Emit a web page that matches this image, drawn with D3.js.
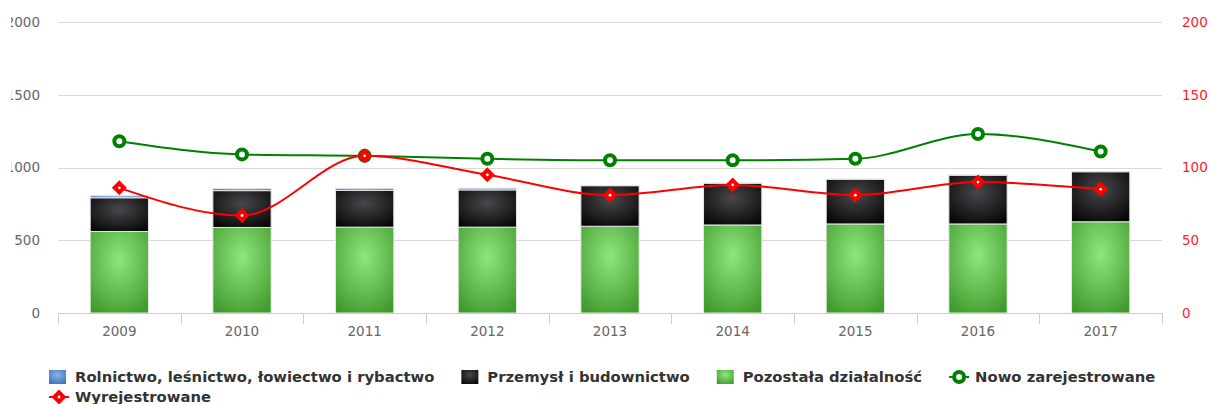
<!DOCTYPE html>
<html>
<head>
<meta charset="utf-8">
<script src="https://cdn.jsdelivr.net/npm/d3@7"></script>
<style>
  html, body { margin: 0; padding: 0; background: #fff; }
  svg { display: block; font-family: "DejaVu Sans", Verdana, sans-serif; }
</style>
</head>
<body>
<div id="chart"></div>
<script>
// Podmioty gospodarki narodowej wg sekcji + nowo zarejestrowane / wyrejestrowane

const years = ['2009', '2010', '2011', '2012', '2013', '2014', '2015', '2016', '2017'];
const rolnictwo = [14, 15, 14, 12, 2, 1, 1, 1, 1];
const przemysl = [232, 253, 253, 256, 279, 287, 307, 335, 344];
const pozostala = [560, 588, 590, 590, 596, 605, 612, 612, 627];
const nowoZarejestrowane = [118, 109, 108, 106, 105, 105, 106, 123, 111];
const wyrejestrowane = [86, 67, 108, 95, 81, 88, 81, 90, 85];

const leftTicks = [0, 500, 1000, 1500, 2000];
const rightTicks = [0, 50, 100, 150, 200];

const width = 1209;
const height = 404;
const plot = { left: 58, right: 1162, top: 22, bottom: 313 };

const svg = d3.select('#chart').append('svg')
  .attr('width', width)
  .attr('height', height);

const defs = svg.append('defs');

function radial(id, inner, outer) {
  const g = defs.append('radialGradient')
    .attr('id', id)
    .attr('cx', 0.5).attr('cy', 0.35).attr('r', 0.75);
  g.append('stop').attr('offset', '0%').attr('stop-color', inner);
  g.append('stop').attr('offset', '100%').attr('stop-color', outer);
}
radial('grad-blue', '#86b2e6', '#3d72b8');
radial('grad-black', '#48484c', '#050505');
radial('grad-green', '#8ee67c', '#3f9a2c');

defs.append('clipPath').attr('id', 'left-clip')
  .append('rect').attr('x', 11).attr('y', 0).attr('width', 60).attr('height', height);

const x = d3.scaleBand()
  .domain(years)
  .range([plot.left, plot.right])
  .padding(0);

const yLeft = d3.scaleLinear().domain([0, 2000]).range([plot.bottom, plot.top]);
const yRight = d3.scaleLinear().domain([0, 200]).range([plot.bottom, plot.top]);

// siatka
svg.append('g')
  .selectAll('line')
  .data(leftTicks.filter(d => d > 0))
  .join('line')
  .attr('x1', plot.left).attr('x2', plot.right)
  .attr('y1', d => Math.round(yLeft(d)) + 0.5)
  .attr('y2', d => Math.round(yLeft(d)) + 0.5)
  .attr('stroke', '#d9d9d9')
  .attr('stroke-width', 1);

// etykiety lewej osi
svg.append('g')
  .attr('clip-path', 'url(#left-clip)')
  .selectAll('text')
  .data(leftTicks)
  .join('text')
  .attr('x', 40)
  .attr('y', d => yLeft(d))
  .attr('dy', '0.36em')
  .attr('text-anchor', 'end')
  .attr('fill', '#666')
  .attr('font-size', 13.5)
  .text(d => d);

// etykiety prawej osi
svg.append('g')
  .selectAll('text')
  .data(rightTicks)
  .join('text')
  .attr('x', 1182)
  .attr('y', d => yRight(d))
  .attr('dy', '0.36em')
  .attr('text-anchor', 'start')
  .attr('fill', '#ff2030')
  .attr('font-size', 13.5)
  .text(d => d);

// słupki skumulowane
const stackData = years.map((year, i) => ({
  year,
  pozostala: pozostala[i],
  przemysl: przemysl[i],
  rolnictwo: rolnictwo[i]
}));
const stack = d3.stack().keys(['pozostala', 'przemysl', 'rolnictwo'])(stackData);
const fills = { pozostala: 'url(#grad-green)', przemysl: 'url(#grad-black)', rolnictwo: 'url(#grad-blue)' };
const barWidth = x.bandwidth() * 0.475;

svg.append('g')
  .selectAll('g')
  .data(stack)
  .join('g')
  .attr('fill', d => fills[d.key])
  .selectAll('rect')
  .data(d => d)
  .join('rect')
  .attr('x', d => x(d.data.year) + (x.bandwidth() - barWidth) / 2)
  .attr('y', d => yLeft(d[1]))
  .attr('width', barWidth)
  .attr('height', d => Math.max(0, yLeft(d[0]) - yLeft(d[1])))
  .attr('stroke', '#e6e6e6')
  .attr('stroke-width', 1);

// oś X
const xAxis = svg.append('g');
xAxis.append('line')
  .attr('x1', plot.left).attr('x2', plot.right)
  .attr('y1', plot.bottom + 0.5).attr('y2', plot.bottom + 0.5)
  .attr('stroke', '#c0d0e0');
xAxis.selectAll('.tick')
  .data(years.concat(['end']))
  .join('line')
  .attr('class', 'tick')
  .attr('x1', d => Math.round(d === 'end' ? plot.right : x(d)) + 0.5)
  .attr('x2', d => Math.round(d === 'end' ? plot.right : x(d)) + 0.5)
  .attr('y1', plot.bottom)
  .attr('y2', plot.bottom + 11)
  .attr('stroke', '#c0d0e0');
xAxis.selectAll('.label')
  .data(years)
  .join('text')
  .attr('class', 'label')
  .attr('x', d => x(d) + x.bandwidth() / 2)
  .attr('y', 331)
  .attr('dy', '0.36em')
  .attr('text-anchor', 'middle')
  .attr('fill', '#666')
  .attr('font-size', 13.5)
  .text(d => d);

// linie
const line = d3.line()
  .x((d, i) => x(years[i]) + x.bandwidth() / 2)
  .y(d => yRight(d))
  .curve(d3.curveMonotoneX);

const greenColor = '#008000';
const redColor = '#ff0000';

svg.append('path')
  .datum(nowoZarejestrowane)
  .attr('d', line)
  .attr('fill', 'none')
  .attr('stroke', greenColor)
  .attr('stroke-width', 2);

svg.append('g')
  .selectAll('circle')
  .data(nowoZarejestrowane)
  .join('circle')
  .attr('cx', (d, i) => x(years[i]) + x.bandwidth() / 2)
  .attr('cy', d => yRight(d))
  .attr('r', 5)
  .attr('fill', '#fff')
  .attr('stroke', greenColor)
  .attr('stroke-width', 4);

svg.append('path')
  .datum(wyrejestrowane)
  .attr('d', line)
  .attr('fill', 'none')
  .attr('stroke', redColor)
  .attr('stroke-width', 2);

const diamond = 'M0,-7.5L7.5,0L0,7.5L-7.5,0Z';
const redMarks = svg.append('g')
  .selectAll('g')
  .data(wyrejestrowane)
  .join('g')
  .attr('transform', (d, i) => `translate(${x(years[i]) + x.bandwidth() / 2},${yRight(d)})`);
redMarks.append('path').attr('d', diamond).attr('fill', redColor);
redMarks.append('circle').attr('r', 1.4).attr('fill', '#fff');

// legenda
const legendItems = [
  { name: 'Rolnictwo, leśnictwo, łowiectwo i rybactwo', type: 'rect', fill: 'url(#grad-blue)' },
  { name: 'Przemysł i budownictwo', type: 'rect', fill: 'url(#grad-black)' },
  { name: 'Pozostała działalność', type: 'rect', fill: 'url(#grad-green)' },
  { name: 'Nowo zarejestrowane', type: 'circle', color: greenColor },
  { name: 'Wyrejestrowane', type: 'diamond', color: redColor }
];

const legend = svg.append('g');
let lx = 49;
let ly = 377;
const rowLimit = 1180;

legendItems.forEach(item => {
  const g = legend.append('g');
  const txt = g.append('text')
    .attr('x', 26)
    .attr('y', 0)
    .attr('dy', '0.36em')
    .attr('font-size', 14.8)
    .attr('font-weight', 'bold')
    .attr('fill', '#333')
    .text(item.name);
  const w = 26 + txt.node().getComputedTextLength();
  if (lx + w > rowLimit) {
    lx = 49;
    ly += 20;
  }
  g.attr('transform', `translate(${lx},${ly})`);

  if (item.type === 'rect') {
    g.append('rect')
      .attr('x', 0).attr('y', -7)
      .attr('width', 17).attr('height', 14)
      .attr('fill', item.fill);
  } else {
    g.append('line')
      .attr('x1', 0).attr('x2', 20)
      .attr('y1', 0).attr('y2', 0)
      .attr('stroke', item.color)
      .attr('stroke-width', 2);
    if (item.type === 'circle') {
      g.append('circle')
        .attr('cx', 10).attr('cy', 0).attr('r', 5)
        .attr('fill', '#fff')
        .attr('stroke', item.color)
        .attr('stroke-width', 4);
    } else {
      g.append('path')
        .attr('d', 'M10,-7.5L17.5,0L10,7.5L2.5,0Z')
        .attr('fill', item.color);
      g.append('circle').attr('cx', 10).attr('r', 1.4).attr('fill', '#fff');
    }
  }
  lx += w + 27;
});
</script>
</body>
</html>
